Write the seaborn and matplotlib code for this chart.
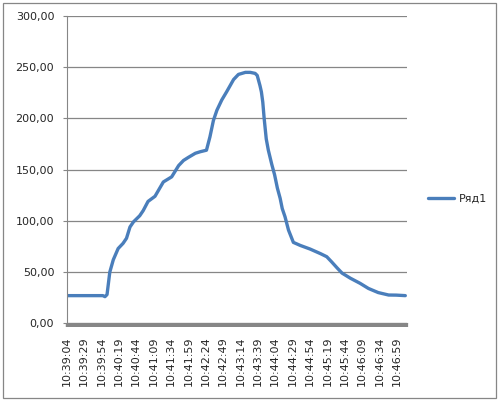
import matplotlib
matplotlib.use("Agg")
import matplotlib.pyplot as plt
from matplotlib.patches import Rectangle
from matplotlib.ticker import MultipleLocator
import seaborn as sns
import pandas as pd

# secondes depuis 10:39:04 et valeurs
secondes = [0, 52, 55, 58, 62, 67, 74, 81, 86, 91, 96, 105, 110, 117, 127,
            139, 151, 161, 168, 175, 185, 192, 201, 206, 211, 216, 223, 230,
            235, 240, 247, 257, 264, 271, 274, 278, 280, 282, 284, 287, 290,
            295, 299, 303, 307, 310, 314, 319, 326, 336, 350, 365, 374, 381,
            389, 396, 408, 422, 434, 448, 463, 474, 487]
valeurs = [27, 27, 26, 28, 50, 62, 73, 78, 83, 94, 99, 105, 110, 119, 124,
           138, 143, 154, 159, 162, 166, 167.5, 169, 182, 198, 208, 218, 226,
           232, 238, 243, 245, 245, 244, 242, 232, 226, 216, 200, 180, 169,
           155, 145, 132, 122, 112, 104, 91, 79, 76, 72.5, 68, 65, 60,
           54, 49, 44, 39, 34, 30, 27.6, 27.5, 27]

etiquettes_x = ["10:39:04", "10:39:29", "10:39:54", "10:40:19", "10:40:44",
                "10:41:09", "10:41:34", "10:41:59", "10:42:24", "10:42:49",
                "10:43:14", "10:43:39", "10:44:04", "10:44:29", "10:44:54",
                "10:45:19", "10:45:44", "10:46:09", "10:46:34", "10:46:59"]
etiquettes_y = ["0,00", "50,00", "100,00", "150,00", "200,00", "250,00", "300,00"]

data = pd.DataFrame({"t": secondes, "val": valeurs})

sns.set_style("white")
plt.rcParams["font.family"] = ["DejaVu Sans"]
gris = "#868686"

fig = plt.figure(figsize=(5, 4.01), dpi=100)
ax = fig.add_axes([0.1334, 0.1938, 0.68, 0.7662])

sns.lineplot(data=data, x="t", y="val", ax=ax, color="#4A7EBB",
             linewidth=2.4, label="Ряд1", legend=False)

ax.set_xlim(0, 489)
ax.set_ylim(0, 300)
ax.set_xticks(range(0, 25 * len(etiquettes_x), 25))
ax.set_xticklabels(etiquettes_x, rotation=90, fontsize=8)
ax.xaxis.set_minor_locator(MultipleLocator(1))
ax.set_yticks(range(0, 301, 50))
ax.set_yticklabels(etiquettes_y, fontsize=8)
ax.set_xlabel("")
ax.set_ylabel("")

ax.yaxis.grid(True, color=gris, linewidth=0.9)
ax.set_axisbelow(True)
for s in ["top", "right"]:
    ax.spines[s].set_visible(False)
ax.spines["left"].set_color(gris)
ax.spines["bottom"].set_color(gris)
ax.tick_params(axis="y", left=True, direction="out", length=3, width=0.8,
               color=gris, pad=6)
# les graduations de chaque seconde forment la bande grise
ax.tick_params(axis="x", which="both", bottom=True, direction="out", length=3.2,
               width=1.6, color=gris, pad=6)

# cadre exterieur gris
fig.patches.append(Rectangle((0.005, 0.0087), 0.986, 0.985, transform=fig.transFigure,
                             fill=False, edgecolor=gris, linewidth=0.9))

h, l = ax.get_legend_handles_labels()
fig.legend(h, l, loc="center left", bbox_to_anchor=(0.835, 0.504), frameon=False,
           fontsize=8, handlelength=2.4, handletextpad=0.4)

fig.savefig("out.png", dpi=100)
